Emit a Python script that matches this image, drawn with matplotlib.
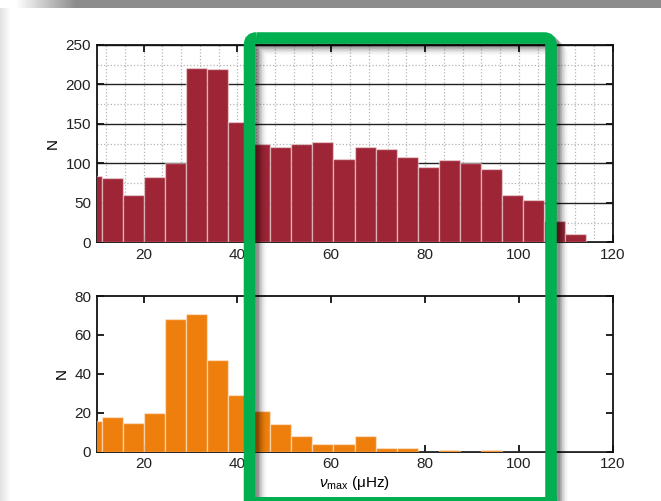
import numpy as np
import matplotlib
matplotlib.use("Agg")
import matplotlib.pyplot as plt
from matplotlib.ticker import MultipleLocator
from matplotlib.patches import FancyBboxPatch, Rectangle

# ---- data ----
bin_edges = [6.72, 11.2, 15.68, 20.16, 24.64, 29.12, 33.6, 38.08, 42.56, 47.04,
             51.52, 56.0, 60.48, 64.96, 69.44, 73.92, 78.4, 82.88, 87.36, 91.84,
             96.32, 100.8, 105.28, 109.76, 114.24, 118.72]
counts_all = [84, 82, 60, 83, 100, 221, 219, 152, 124, 121, 125, 127, 105, 121,
              118, 108, 95, 104, 101, 93, 60, 53, 27, 11, 1]
counts_sub = [16, 18, 15, 20, 68, 71, 47, 29, 21, 14, 8, 4, 4, 8, 2, 2, 0, 1,
              0, 1, 0, 0, 0, 0, 0]
x_ticks = [20, 40, 60, 80, 100, 120]
y_ticks_top = [0, 50, 100, 150, 200, 250]
y_ticks_bot = [0, 20, 40, 60, 80]

plt.rcParams['font.family'] = ['Liberation Sans', 'DejaVu Sans']
plt.rcParams['mathtext.fontset'] = 'custom'
plt.rcParams['mathtext.rm'] = 'Liberation Sans'
plt.rcParams['mathtext.it'] = 'Liberation Sans:italic'

W, H = 661, 501
fig = plt.figure(figsize=(W / 100, H / 100), dpi=100)
fig.patch.set_facecolor('white')

# ---- background decoration (pixel coords) ----
bg = fig.add_axes([0, 0, 1, 1], zorder=-10)
bg.set_xlim(0, W)
bg.set_ylim(H, 0)
bg.axis('off')
xs = np.linspace(0, 1, 400)
band = np.clip((xs * W - 15) / 60, 0, 1)
band_col = 1 - 0.45 * band
band_img = np.tile(band_col, (10, 1))
bg.imshow(band_img, cmap='gray', vmin=0, vmax=1, extent=[0, W, 8, 0], aspect='auto')
ls = np.linspace(0.88, 0.99, 30)
bg.imshow(np.tile(ls, (10, 1)), cmap='gray', vmin=0, vmax=1, extent=[0, 10, H, 8], aspect='auto')

edges = np.array(bin_edges)
lefts = edges[:-1]
widths = np.diff(edges)

# ---- top panel ----
ax1 = fig.add_axes([96.7 / W, 1 - 242.3 / H, 516 / W, 197.3 / H])
ax1.bar(lefts, counts_all, width=widths, align='edge', color='#9e2535',
        edgecolor=(1, 1, 1, 0.45), linewidth=1.0, zorder=3)
ax1.set_xlim(10, 120)
ax1.set_ylim(0, 250)
ax1.set_xticks(x_ticks)
ax1.set_yticks(y_ticks_top)
ax1.xaxis.set_minor_locator(MultipleLocator(4))
ax1.yaxis.set_minor_locator(MultipleLocator(25))
ax1.xaxis.grid(True, which='both', color='#b5b5b5', ls=':', lw=0.9, zorder=0)
ax1.yaxis.grid(True, which='minor', color='#b5b5b5', ls=':', lw=0.9, zorder=0)
ax1.yaxis.grid(True, which='major', color='#222222', ls='-', lw=1.0, zorder=1)
ax1.set_axisbelow(True)
ax1.set_ylabel('N', fontsize=11)

# ---- bottom panel ----
ax2 = fig.add_axes([96.7 / W, 1 - 451.7 / H, 516 / W, 155.7 / H])
ax2.bar(lefts, counts_sub, width=widths, align='edge', color='#ef7f0c',
        edgecolor=(1, 1, 1, 0.45), linewidth=1.0, zorder=3)
ax2.set_xlim(10, 120)
ax2.set_ylim(0, 80)
ax2.set_xticks(x_ticks)
ax2.set_yticks(y_ticks_bot)
ax2.set_ylabel('N', fontsize=11)
ax2.set_xlabel(r'$\nu_{\mathrm{max}}$ (μHz)', fontsize=11, labelpad=2)

for ax in (ax1, ax2):
    for sp in ax.spines.values():
        sp.set_linewidth(1.3)
        sp.set_color('#111111')
    ax.tick_params(which='major', direction='in', length=5, width=1.3,
                   top=True, right=True, labelsize=11, pad=4, colors='#111111',
                   labelcolor='#222222')
    ax.tick_params(which='minor', length=0)

# ---- green highlight rectangle with shadow ----
ov = fig.add_axes([0, 0, 1, 1], zorder=10)
ov.set_xlim(0, W)
ov.set_ylim(H, 0)
ov.axis('off')
for i, a in enumerate([0.18, 0.13, 0.09, 0.06, 0.04, 0.02]):
    off = 3 + i * 1.6
    sh = FancyBboxPatch((249.5 + off, 38 + off), 301.5, 480,
                        boxstyle='round,pad=0,rounding_size=7',
                        fill=False, edgecolor=(0, 0, 0, a), linewidth=9)
    ov.add_patch(sh)
rect2 = FancyBboxPatch((249.5, 38), 301.5, 480,
                       boxstyle='round,pad=0,rounding_size=7',
                       fill=False, edgecolor='#00b050', linewidth=8.3)
ov.add_patch(rect2)
# bottom edge of the frame, mostly cut off by the image border
ov.add_patch(Rectangle((244, 497), 313, 10, facecolor='#00b050',
                       edgecolor='none', clip_on=False))

fig.savefig('out.png', dpi=100)
